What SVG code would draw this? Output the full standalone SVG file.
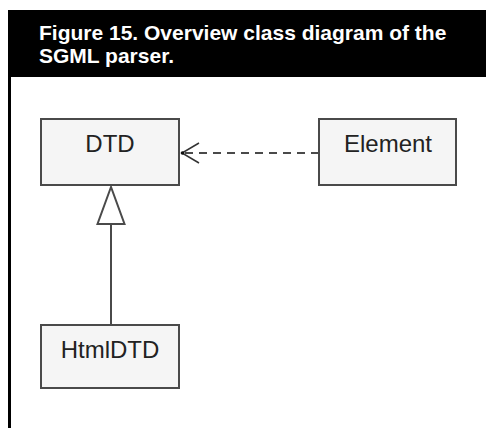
<svg xmlns="http://www.w3.org/2000/svg" width="486" height="428" viewBox="0 0 486 428">
  <style>
    .title { font-family: "Liberation Sans", Arial, sans-serif; font-weight: bold; font-size: 21px; fill: #ffffff; }
    .cls rect { fill: #f5f5f5; stroke: #4a4a4a; stroke-width: 2; }
    .cls text { font-family: "Liberation Sans", Arial, sans-serif; font-size: 24px; fill: #222222; text-anchor: middle; }
    .edge { fill: none; stroke: #4a4a4a; stroke-width: 2; }
    .dash { stroke-dasharray: 8 6; }
  </style>
  <defs>
    <!-- open dependency arrowhead, tip at the path end -->
    <marker id="open-arrow" viewBox="0 0 21 24" refX="19" refY="12" markerWidth="21" markerHeight="24" markerUnits="userSpaceOnUse" orient="auto">
      <path d="M2,2 L19,12 L2,22" fill="none" stroke="#333" stroke-width="1.5"/>
      <circle cx="18.5" cy="12" r="1.8" fill="#111"/>
    </marker>
    <!-- hollow generalization triangle -->
    <marker id="hollow-triangle" viewBox="0 0 40 30" refX="38" refY="15" markerWidth="40" markerHeight="30" markerUnits="userSpaceOnUse" orient="auto">
      <path d="M38,15 L1,1.5 L1,28.5 Z" fill="#ffffff" stroke="#4a4a4a" stroke-width="2"/>
    </marker>
  </defs>

  <!-- caption bar -->
  <rect x="8" y="10" width="478" height="67" fill="#000000"/>
  <rect x="8" y="77" width="3" height="351" fill="#000000"/>
  <text class="title" x="39" y="40">Figure 15. Overview class diagram of the</text>
  <text class="title" x="39" y="63">SGML parser.</text>

  <!-- connectors -->
  <g id="connectors">
    <line class="edge dash" x1="319" y1="153" x2="182" y2="153" marker-end="url(#open-arrow)"/>
    <line class="edge" x1="111" y1="325" x2="111" y2="187" marker-end="url(#hollow-triangle)"/>
  </g>

  <g id="DTD" class="cls">
    <rect x="41" y="119" width="138" height="66"/>
    <text x="110" y="152">DTD</text>
  </g>
  <g id="Element" class="cls">
    <rect x="319" y="119" width="137" height="66"/>
    <text x="388" y="152">Element</text>
  </g>
  <g id="HtmlDTD" class="cls">
    <rect x="41" y="325" width="138" height="63"/>
    <text x="110" y="358">HtmlDTD</text>
  </g>
</svg>
